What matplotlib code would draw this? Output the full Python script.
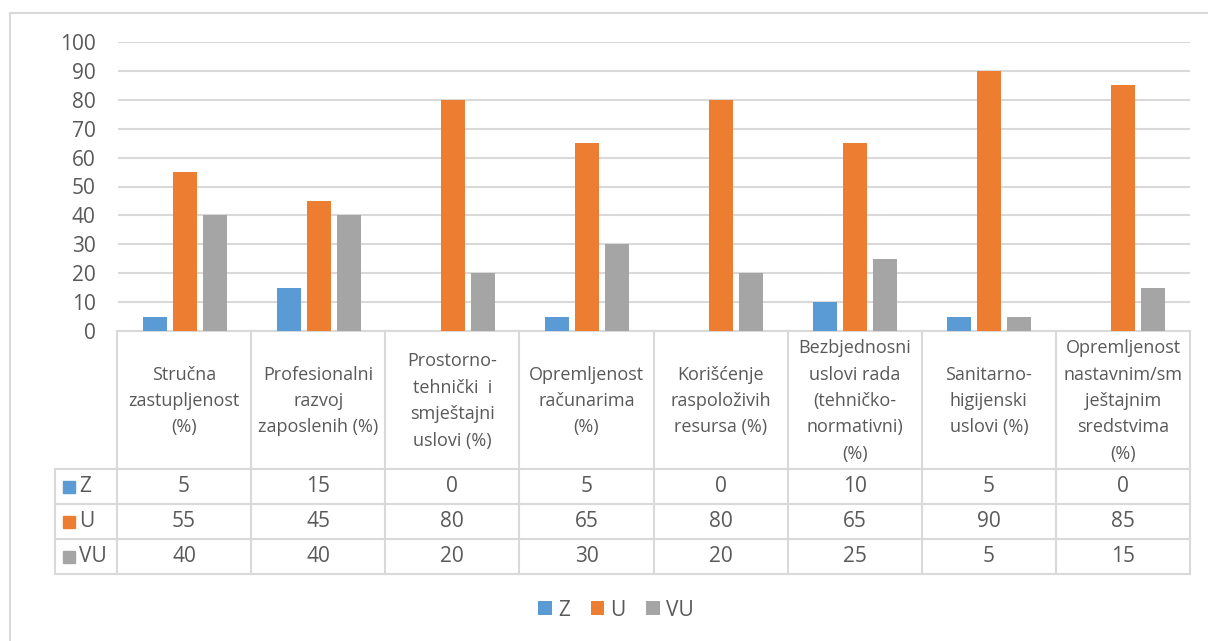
import numpy as np
import matplotlib
matplotlib.use("Agg")
import matplotlib.pyplot as plt
from matplotlib.patches import Rectangle

plt.rcParams['font.family'] = ['Open Sans', 'DejaVu Sans']

categories = ["Stručna\nzastupljenost\n(%)",
              "Profesionalni\nrazvoj\nzaposlenih (%)",
              "Prostorno-\ntehnički  i\nsmještajni\nuslovi (%)",
              "Opremljenost\nračunarima\n(%)",
              "Korišćenje\nraspoloživih\nresursa (%)",
              "Bezbjednosni\nuslovi rada\n(tehničko-\nnormativni)\n(%)",
              "Sanitarno-\nhigijenski\nuslovi (%)",
              "Opremljenost\nnastavnim/sm\nještajnim\nsredstvima\n(%)"]
series_names = ["Z", "U", "VU"]
z_vals = [5, 15, 0, 5, 0, 10, 5, 0]
u_vals = [55, 45, 80, 65, 80, 65, 90, 85]
vu_vals = [40, 40, 20, 30, 20, 25, 5, 15]
colors = ["#5B9BD5", "#ED7D31", "#A5A5A5"]

W, H = 1208, 641
txt = "#595959"
grid = "#D9D9D9"
fs_num = 15
fs_cat = 13

fig = plt.figure(figsize=(W / 100, H / 100), dpi=100)

# outer chart border
fig.patches.append(Rectangle((10 / W, -0.1), 1.1, 1 - 13 / H + 0.1,
                             transform=fig.transFigure, fill=False,
                             edgecolor=grid, linewidth=1.5))

def px(l, t, r, b):
    return [l / W, 1 - b / H, (r - l) / W, (b - t) / H]

ax = fig.add_axes(px(118, 42, 1190, 331))
n = len(categories)
x = np.arange(n)
bw = 0.175
step = 0.224
data = [z_vals, u_vals, vu_vals]
handles = []
for i, vals in enumerate(data):
    h = ax.bar(x + (i - 1) * step, vals, bw, color=colors[i], label=series_names[i], zorder=3)
    handles.append(h)

ax.set_xlim(-0.5, n - 0.5)
ax.set_ylim(0, 100)
ax.set_yticks(range(0, 101, 10))
ax.yaxis.grid(True, color=grid, linewidth=1.5, zorder=0)
ax.tick_params(axis='y', length=0, labelsize=fs_num, labelcolor=txt, pad=16)
ax.tick_params(axis='x', length=0, labelbottom=False)
for s in ['top', 'right', 'left']:
    ax.spines[s].set_visible(False)
ax.spines['bottom'].set_color(grid)
ax.spines['bottom'].set_linewidth(1.5)

# data table below the axis
tab = fig.add_axes(px(55, 331, 1190, 574))
left = -0.5 - 62 / 134
tab.set_xlim(left, n - 0.5)
tab.set_ylim(243, 0)
tab.axis('off')
lw = 1.5
rows = [0, 138, 173, 208, 243]
for xb in np.arange(-0.5, n, 1.0):
    tab.plot([xb, xb], [0, 243], color=grid, lw=lw, clip_on=False)
tab.plot([left, left], [138, 243], color=grid, lw=lw, clip_on=False)
for yb in rows[1:]:
    tab.plot([left, n - 0.5], [yb, yb], color=grid, lw=lw, clip_on=False)

for j, c in enumerate(categories):
    tab.text(j, 70, c, ha='center', va='center', fontsize=fs_cat, color=txt,
             linespacing=1.6)
for i, vals in enumerate(data):
    yc = (rows[i + 1] + rows[i + 2]) / 2
    tab.add_patch(Rectangle((left + 8 / 134, yc - 6), 12 / 134, 12,
                            color=colors[i], clip_on=False))
    tab.text(left + 24 / 134, yc, series_names[i], ha='left', va='center',
             fontsize=fs_num, color=txt)
    for j, v in enumerate(vals):
        tab.text(j, yc, str(v), ha='center', va='center', fontsize=fs_num, color=txt)

fig.legend(handles=handles, labels=series_names, loc='center',
           bbox_to_anchor=(616 / W, 1 - 610 / H), ncol=3, frameon=False,
           fontsize=fs_num, labelcolor=txt, handlelength=0.65, handleheight=0.65,
           handletextpad=0.3, columnspacing=1.0)

fig.savefig("out.png", dpi=100)
